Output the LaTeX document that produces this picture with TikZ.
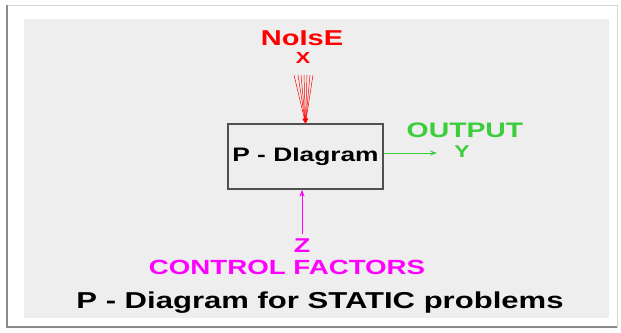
\documentclass[tikz,border=0pt]{standalone}
\usepackage{fontspec}
\setmainfont{Liberation Sans}[FakeStretch=1.35]
\usepackage{tikz}
\usetikzlibrary{arrows.meta, positioning}
\usepackage{xcolor}
\definecolor{panel}{RGB}{238,238,238}
\definecolor{frameline}{RGB}{215,215,215}
\definecolor{shadowline}{RGB}{140,140,140}
\definecolor{boxline}{RGB}{80,80,80}
\definecolor{noisered}{RGB}{255,0,0}
\definecolor{outgreen}{RGB}{60,205,60}
\definecolor{ctrlmag}{RGB}{255,0,255}

\begin{document}
\begin{tikzpicture}[
  x=1pt, y=-1pt,
  >=Stealth,
  txt/.style={anchor=base, inner sep=0pt, font=\bfseries},
  pbox/.style={
    rectangle, draw=boxline, line width=1.3pt, fill=panel,
    minimum width=155pt, minimum height=65pt, text=black,
    font=\bfseries\fontsize{19.5}{22}\selectfont
  },
  noisearrow/.style={draw=noisered, line width=0.5pt,
    {-Stealth[length=5pt,width=4pt]}},
  outarrow/.style={draw=outgreen, line width=1pt,
    {-Stealth[length=7pt,width=5pt]}},
  ctrlarrow/.style={draw=ctrlmag, line width=1pt,
    {-Stealth[length=7pt,width=5pt]}}
]

% Frame and background
\useasboundingbox (0,0) rectangle (621,332);
\fill[white] (0,0) rectangle (621,332);
\draw[frameline, fill=white, line width=1pt] (7,5) rectangle (617,327);
\draw[shadowline, line width=1.5pt] (7,5) -- (7,327) -- (617,327);
\fill[panel] (24,19) rectangle (609,318);

% P-Diagram box
\node[pbox] (pd) at (305.5,156.5) {P - DIagram};

% Noise
\node[txt, text=noisered, font=\bfseries\fontsize{21.5}{24}\selectfont]
  (noise) at (302,45) {NoIsE};
\node[txt, text=noisered, font=\bfseries\fontsize{16}{18}\selectfont]
  (xin) at (303,63) {X};
\foreach \dx [count=\i] in {-10,-6,-3,0,3,6,9}
  \coordinate (n\i) at (304+\dx,75);
\foreach \i in {1,...,7}
  \draw[noisearrow] (n\i) -- (pd.north);

% Output
\node[txt, text=outgreen, font=\bfseries\fontsize{21}{24}\selectfont]
  (output) at (465,137) {OUTPUT};
\node[txt, text=outgreen, font=\bfseries\fontsize{17}{20}\selectfont]
  (yout) at (462,157) {Y};
\coordinate (outend) at (437,153);
\draw[outarrow] (pd.east |- outend) -- (outend);

% Control factors
\node[txt, text=ctrlmag, font=\bfseries\fontsize{20}{23}\selectfont]
  (zin) at (302,252) {Z};
\node[txt, text=ctrlmag, font=\bfseries\fontsize{20.5}{23}\selectfont]
  (control) at (287,274) {CONTROL FACTORS};
\draw[ctrlarrow] ([yshift=4pt]zin.north) -- (zin.north |- pd.south);

% Caption
\node[txt, text=black, font=\bfseries\fontsize{23}{26}\selectfont]
  (caption) at (320,308) {P - Diagram for STATIC problems};

\end{tikzpicture}
\end{document}
